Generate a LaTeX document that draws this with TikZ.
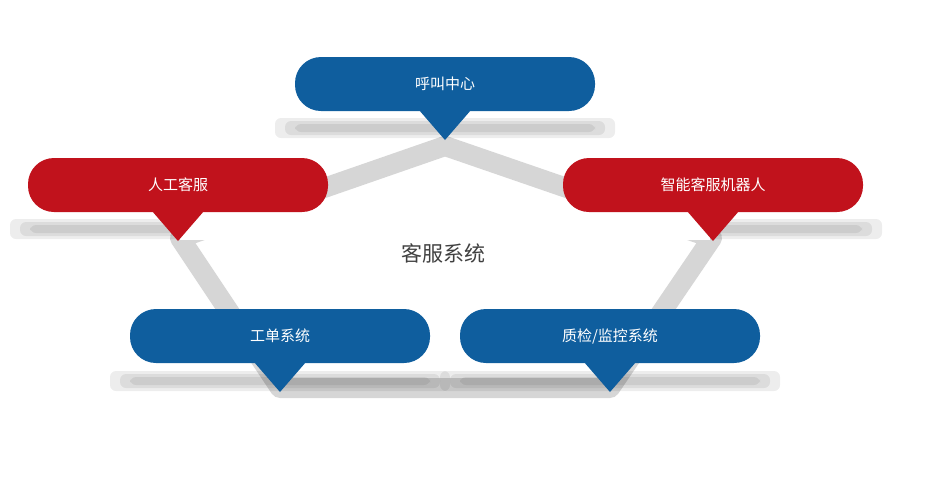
\documentclass[tikz,border=0pt]{standalone}
\usepackage{fontspec}
\newfontfamily\cjk{Noto Sans CJK SC}
\definecolor{cblue}{HTML}{0F5E9E}
\definecolor{cred}{HTML}{C1121C}
\definecolor{band}{HTML}{D6D6D6}
\tikzset{
  pill/.style={rounded corners=26pt, minimum width=300pt, minimum height=54pt, text=white, font=\cjk\fontsize{15}{18}\selectfont},
  bandline/.style={band, line width=20pt, line join=round},
  shadowbar/.style={fill=black, opacity=0.07, rounded corners=6pt}
}
\begin{document}
\begin{tikzpicture}[x=1pt,y=-1pt]
\useasboundingbox (0,0) rectangle (930,483);
% tips
\coordinate (tA) at (445,146);
\coordinate (tB) at (180,238);
\coordinate (tC) at (712,238);
\coordinate (tD) at (280,388);
\coordinate (tE) at (610,388);
\draw[bandline] (tA) -- (tB) -- (tD) -- (tE) -- (tC) -- cycle;
% shadows
\foreach \cx/\cy in {445/128, 180/229, 712/229, 280/381, 610/381}{
  \foreach \w/\h in {170/10, 160/7, 150/4}{
    \fill[shadowbar] (\cx-\w,\cy-\h) rectangle (\cx+\w,\cy+\h);
  }
}
\fill[white] (180,205) rectangle (470,240);
\fill[white] (420,205) rectangle (710,240);
% pills
\newcommand\callout[5]{%
  \fill[#4] (#2-26,#3+26) -- (#2,#3+56) -- (#2+26,#3+26) -- cycle;
  \node[pill, fill=#4] (#1) at (#2,#3) {#5};
}
\callout{hj}{445}{84}{cblue}{呼叫中心}
\callout{rg}{178}{185}{cred}{人工客服}
\callout{zn}{713}{185}{cred}{智能客服机器人}
\callout{gd}{280}{336}{cblue}{工单系统}
\callout{zj}{610}{336}{cblue}{质检/监控系统}
\node[font=\cjk\fontsize{21}{25}\selectfont, text=black!75] (center) at (443,253) {客服系统};
\end{tikzpicture}
\end{document}
